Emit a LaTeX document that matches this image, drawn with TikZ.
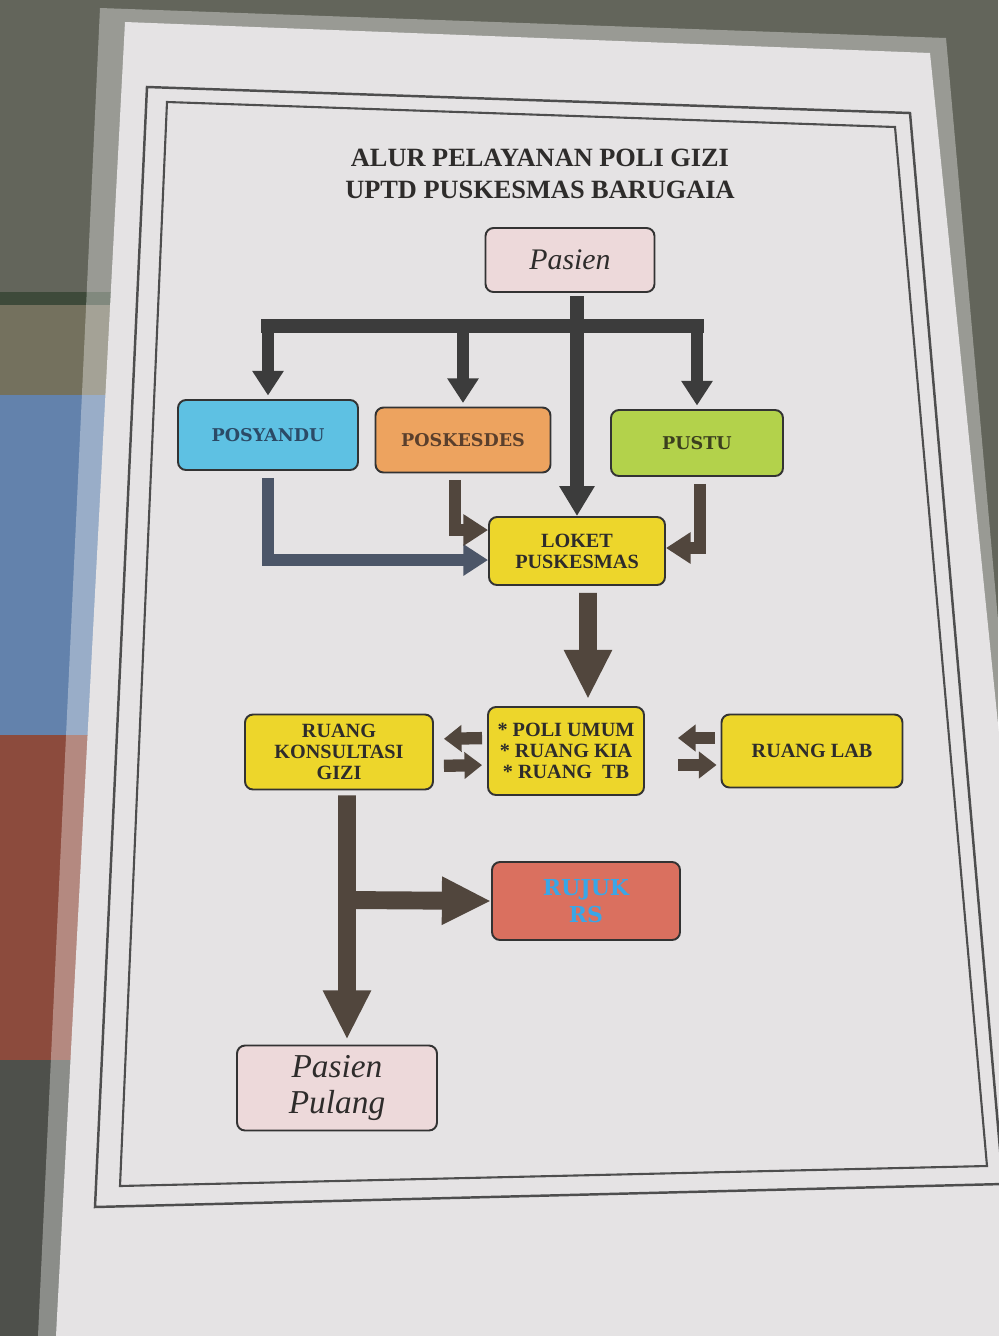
\documentclass[tikz,border=0pt]{standalone}
\usepackage{fontspec}
\setmainfont{Liberation Serif}
\newfontfamily\heavyfont{DejaVu Serif}
\usetikzlibrary{arrows.meta,calc}

\definecolor{bgdark}{HTML}{63655B}
\definecolor{bgolive}{HTML}{74715E}
\definecolor{bggreen}{HTML}{3E4A3A}
\definecolor{bgblue}{HTML}{6382AC}
\definecolor{bgred}{HTML}{8C4B3D}
\definecolor{bgbottom}{HTML}{4E504B}
\definecolor{paper}{HTML}{E5E3E4}
\definecolor{frameline}{HTML}{4E4E4E}
\definecolor{boxline}{HTML}{333333}
\definecolor{inkdark}{HTML}{2E2C2B}
\definecolor{pinkbox}{HTML}{EDD9DA}
\definecolor{cyanbox}{HTML}{5EC1E3}
\definecolor{orangebox}{HTML}{EDA35F}
\definecolor{greenbox}{HTML}{B3D24B}
\definecolor{yellowbox}{HTML}{EDD62B}
\definecolor{redbox}{HTML}{DA705F}
\definecolor{posyink}{HTML}{2B4A66}
\definecolor{poskink}{HTML}{5A3F2C}
\definecolor{pustuink}{HTML}{3B3F1E}
\definecolor{rujukblue}{HTML}{3AA6E6}
\definecolor{arrowtop}{HTML}{3C3C3C}
\definecolor{arrowlow}{HTML}{51463D}
\definecolor{arrowblue}{HTML}{4C5668}

\begin{document}
\begin{tikzpicture}
  [x=0.02cm,y=-0.02cm,
   box/.style={draw=boxline,line width=1.1pt,rounded corners=0.16cm,align=center,inner sep=0pt,text=inkdark},
   plain/.style={font=\fontsize{11.5}{12}\selectfont\bfseries},
   heavy/.style={font=\fontsize{10}{12}\selectfont\heavyfont\bfseries},
   cursive/.style={font=\fontsize{17}{21}\selectfont\itshape},
   barline/.style={draw=arrowtop,line width=7.9pt,line cap=rect},
   branch/.style={draw=arrowtop,line width=6.8pt,-{Triangle[width=17pt,length=14pt]},shorten >=2pt},
   trunk/.style={draw=arrowtop,line width=7.9pt,-{Triangle[width=19pt,length=17pt]},shorten <=2pt},
   side/.style={draw=arrowlow,line width=6.8pt,-{Triangle[width=17pt,length=14pt]},shorten <=4pt},
   small/.style={draw=arrowlow,line width=7pt,-{Triangle[width=14.7pt,length=10pt]}},
   bigflow/.style={draw=arrowlow,line width=10.2pt,-{Triangle[width=25.5pt,length=28pt]}}]
  \useasboundingbox (0,0) rectangle (998,1336);

  % photo background, laminate and sheet
  \fill[bgdark] (0,0) rectangle (998,1336);
  \fill[bggreen] (0,292) rectangle (140,305);
  \fill[bgolive] (0,305) rectangle (140,395);
  \fill[bgblue] (0,395) rectangle (140,735);
  \fill[bgred] (0,735) rectangle (140,1060);
  \fill[bgbottom] (0,1060) rectangle (140,1336);
  \fill[white,fill opacity=0.35] (100,8) -- (946,38) -- (1062,1336) -- (38,1336) -- cycle;
  \fill[paper] (125,22) -- (930,53) -- (1060,1336) -- (56,1336) -- cycle;
  \draw[frameline,line width=1.4pt] (147,87) -- (910,113) -- (1003,1184) -- (95,1207) -- cycle;
  \draw[frameline,line width=1.2pt] (167,102) -- (895,127) -- (987,1166) -- (120,1186) -- cycle;

  \node[text=inkdark,align=center,font=\fontsize{15}{18}\selectfont\bfseries] (title) at (540,174)
    {ALUR PELAYANAN POLI GIZI\\UPTD PUSKESMAS BARUGAIA};

  \node[box,cursive,fill=pinkbox,minimum width=3.38cm,minimum height=1.28cm] (pasien) at (570,260) {Pasien};
  \node[box,heavy,fill=cyanbox,text=posyink,minimum width=3.6cm,minimum height=1.4cm] (posyandu) at (268,435) {POSYANDU};
  \node[box,heavy,fill=orangebox,text=poskink,minimum width=3.5cm,minimum height=1.3cm] (poskesdes) at (463,440) {POSKESDES};
  \node[box,heavy,fill=greenbox,text=pustuink,minimum width=3.44cm,minimum height=1.32cm] (pustu) at (697,443) {PUSTU};
  \node[box,plain,fill=yellowbox,minimum width=3.52cm,minimum height=1.36cm] (loket) at (577,551) {LOKET\\PUSKESMAS};
  \node[box,plain,fill=yellowbox,minimum width=3.12cm,minimum height=1.76cm] (poli) at (566,751)
    {* POLI UMUM\\* RUANG KIA\\* RUANG~~TB};
  \node[box,plain,fill=yellowbox,minimum width=3.76cm,minimum height=1.5cm] (konsul) at (339,752)
    {RUANG\\KONSULTASI\\GIZI};
  \node[box,plain,fill=yellowbox,minimum width=3.62cm,minimum height=1.46cm] (lab) at (812,751) {RUANG LAB};
  \node[box,fill=redbox,text=rujukblue,font=\fontsize{12.5}{15}\selectfont\heavyfont\bfseries,
        minimum width=3.76cm,minimum height=1.56cm] (rujuk) at (586,901) {RUJUK\\RS};
  \node[box,fill=pinkbox,font=\fontsize{19}{21}\selectfont\itshape,minimum width=4cm,minimum height=1.7cm] (pulang) at (337,1088)
    {Pasien\\Pulang};

  \coordinate (bar) at (577,326);
  \coordinate (split) at (347,900);

  % from Pasien
  \draw[barline] (bar -| posyandu.north) -- (bar -| pustu.north);
  \foreach \to in {posyandu,poskesdes,pustu}
    \draw[branch] (bar -| \to.north) -- (\to.north);
  \draw[trunk] (pasien.south -| loket.north) -- (loket.north);

  % to the loket
  \draw[side,draw=arrowblue] (posyandu.south) |- ($(loket.west)+(0,9)$);
  \draw[side] ([xshift=-0.16cm]poskesdes.south) |- ($(loket.west)+(0,-21)$);
  \draw[side] ([xshift=0.06cm]pustu.south) |- ($(loket.east)+(0,-3)$);
  \draw[bigflow,shorten <=0.14cm,shorten >=0.14cm] ([xshift=0.22cm]loket.south) -- ([xshift=0.44cm]poli.north);

  % between the rooms
  \draw[small,shorten <=0.1cm,shorten >=0.2cm] ([yshift=0.26cm]poli.west) -- ([yshift=0.26cm]konsul.east);
  \draw[small,shorten <=0.2cm,shorten >=0.1cm] ([yshift=-0.28cm]konsul.east) -- ([yshift=-0.28cm]poli.west);
  \draw[small,shorten <=0.12cm,shorten >=0.66cm] ([yshift=0.26cm]lab.west) -- ([yshift=0.26cm]poli.east);
  \draw[small,shorten <=0.66cm,shorten >=0.08cm] ([yshift=-0.28cm]poli.east) -- ([yshift=-0.28cm]lab.west);

  % out of the consultation room
  \draw[bigflow,shorten <=0.1cm,shorten >=0.1cm] ([xshift=0.16cm]konsul.south) -- ([xshift=0.2cm]pulang.north);
  \draw[bigflow] (split) -- (rujuk.west);

\end{tikzpicture}
\end{document}
